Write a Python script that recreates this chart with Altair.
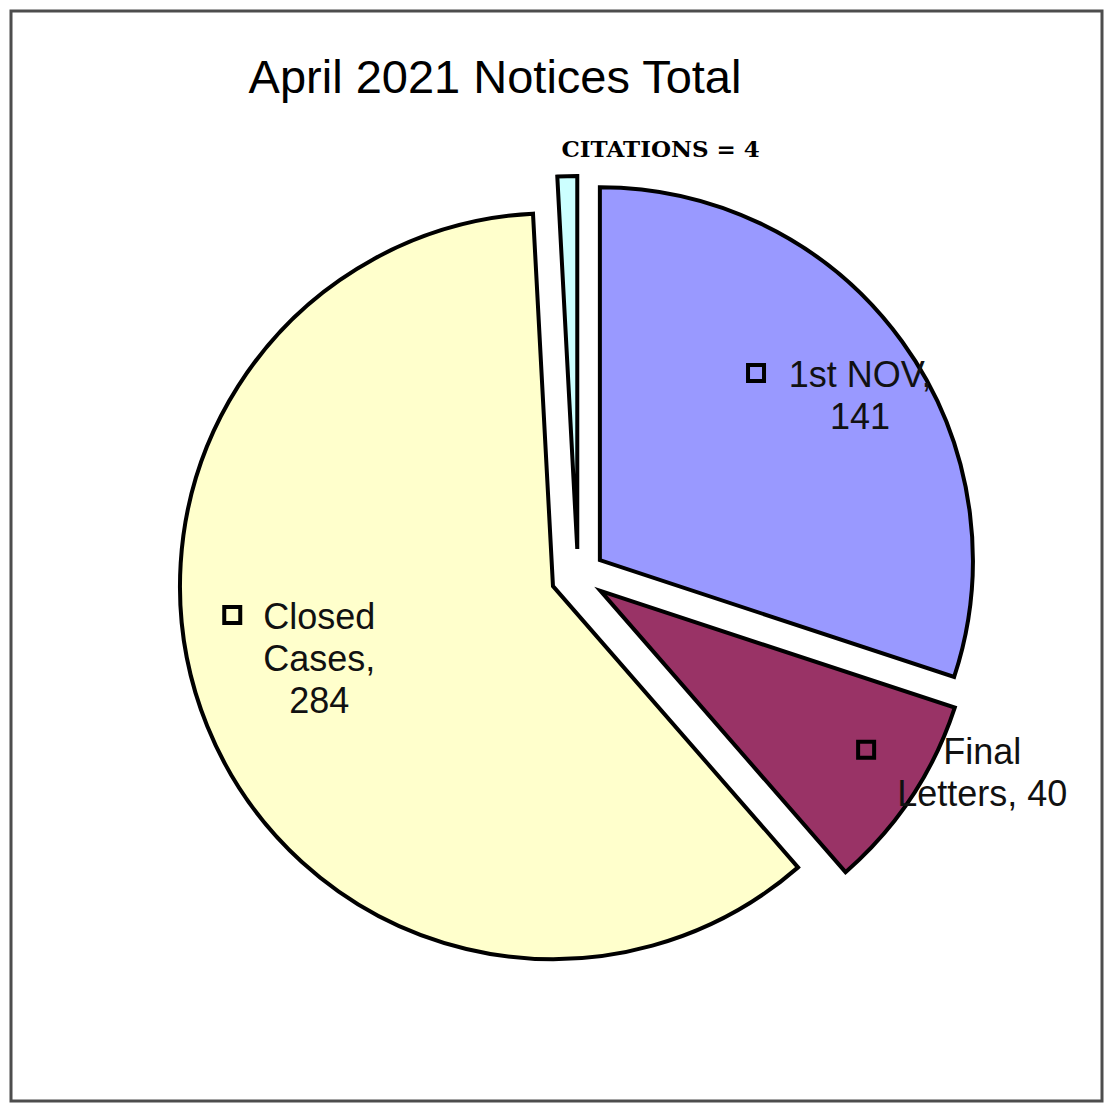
import math
import altair as alt
import pandas as pd

# ---- data ----
categories = ["1st NOV", "Final Letters", "Closed Cases", "CITATIONS"]
values = [141, 40, 284, 4]
colors = ["#9999FF", "#993366", "#FFFFCC", "#CCFFFF"]
label_texts = ["1st NOV,\n141", "Final\nLetters, 40", "Closed\nCases,\n284", "CITATIONS = 4"]
title_text = "April 2021 Notices Total"

# ---- layout / style constants ----
W, H = 1097, 1096
PAD = 3
CX, CY = 567, 565          # pie centre (view px)
R = 373                    # pie radius
EXPLODE = 27               # explode distance
LABEL_FONT = 36
LINE_H = 42
KEY_GAP = 31
label_radius = {"1st NOV": 334, "Final Letters": 450, "Closed Cases": 272, "CITATIONS": 427}
label_nudge = {"1st NOV": 3.5, "Final Letters": -7.5, "Closed Cases": 4.1, "CITATIONS": 12.7}

# approximate Arial/Liberation Sans advance widths (per 1000 em)
_w = {'1': 556, 's': 500, 't': 278, ' ': 278, 'N': 722, 'O': 778, 'V': 667, ',': 278,
      '4': 556, 'F': 611, 'i': 222, 'n': 556, 'a': 556, 'l': 222, 'L': 556, 'e': 556,
      'r': 333, '0': 556, 'C': 722, 'o': 556, 'd': 556, '2': 556, '8': 556}


def text_width(s, size):
    return sum(_w.get(c, 556) for c in s) / 1000.0 * size


total = sum(values)
df = pd.DataFrame({
    "category": categories,
    "value": values,
    "order": list(range(len(categories))),
    "label": label_texts,
    "lr": [label_radius[c] for c in categories],
    "lnudge": [label_nudge[c] for c in categories],
    "halfw": [max(text_width(l, LABEL_FONT) for l in t.split("\n")) / 2 for t in label_texts],
    "nlines": [len(t.split("\n")) for t in label_texts],
})

color_scale = alt.Scale(domain=categories, range=colors)

base = (
    alt.Chart(df)
    .transform_joinaggregate(total="sum(value)")
    .transform_window(cum="sum(value)", sort=[alt.SortField("order")])
    .transform_calculate(start="datum.cum - datum.value")
    .transform_calculate(mid="(datum.cum - datum.value / 2) / datum.total * 2 * PI")
    .transform_calculate(
        cx=f"{CX} + {EXPLODE} * sin(datum.mid)",
        cy=f"{CY} - {EXPLODE} * cos(datum.mid)",
        la="datum.mid + datum.lnudge * PI / 180",
    )
    .transform_calculate(
        lx=f"{CX} + datum.lr * sin(datum.la)",
        ly=f"{CY} - datum.lr * cos(datum.la)",
    )
    .transform_calculate(
        ty=f"datum.ly - (datum.nlines - 1) / 2 * {LINE_H}",
        kx=f"datum.lx - datum.halfw - {KEY_GAP}",
    )
    .transform_calculate(ky="datum.ty - 3")
)

arcs = base.mark_arc(
    radius=R, stroke="black", strokeWidth=4, strokeJoin="miter"
).encode(
    theta=alt.Theta("start:Q", scale=alt.Scale(domain=[0, total], range=[0, 2 * math.pi])),
    theta2="cum:Q",
    x=alt.X("cx:Q", scale=None, axis=None),
    y=alt.Y("cy:Q", scale=None, axis=None),
    color=alt.Color("category:N", scale=color_scale, legend=None),
)

labels = base.transform_filter("datum.category != 'CITATIONS'").mark_text(
    font="Liberation Sans", fontSize=LABEL_FONT, lineBreak="\n", lineHeight=LINE_H,
    align="center", baseline="middle", color="#111111",
).encode(
    x=alt.X("lx:Q", scale=None, axis=None),
    y=alt.Y("ty:Q", scale=None, axis=None),
    text="label:N",
)

keys = base.transform_filter("datum.category != 'CITATIONS'").mark_point(
    shape="square", size=256, filled=True, stroke="black", strokeWidth=4, opacity=1,
).encode(
    x=alt.X("kx:Q", scale=None, axis=None),
    y=alt.Y("ky:Q", scale=None, axis=None),
    color=alt.Color("category:N", scale=color_scale, legend=None),
)

cit_label = base.transform_filter("datum.category == 'CITATIONS'").mark_text(
    font="DejaVu Serif", fontWeight="bold", fontSize=23, align="center",
    baseline="alphabetic", color="black",
).encode(
    x=alt.X("lx:Q", scale=None, axis=None),
    y=alt.Y("ly:Q", scale=None, axis=None),
    text="label:N",
)

title = alt.Chart(pd.DataFrame({"t": [title_text]})).mark_text(
    font="Liberation Sans", fontSize=47, align="center", baseline="alphabetic", color="black",
).encode(
    x=alt.value(484),
    y=alt.value(82),
    text="t:N",
)

chart = (
    alt.layer(arcs, keys, labels, cit_label, title)
    .properties(
        width=W, height=H, padding=PAD,
        autosize=alt.AutoSizeParams(type="fit", contains="padding"),
        background="white",
    )
    .configure_view(stroke="#4d4d4d", strokeWidth=3)
)

chart.save("out.html", embed_options={"renderer": "svg", "actions": False})
